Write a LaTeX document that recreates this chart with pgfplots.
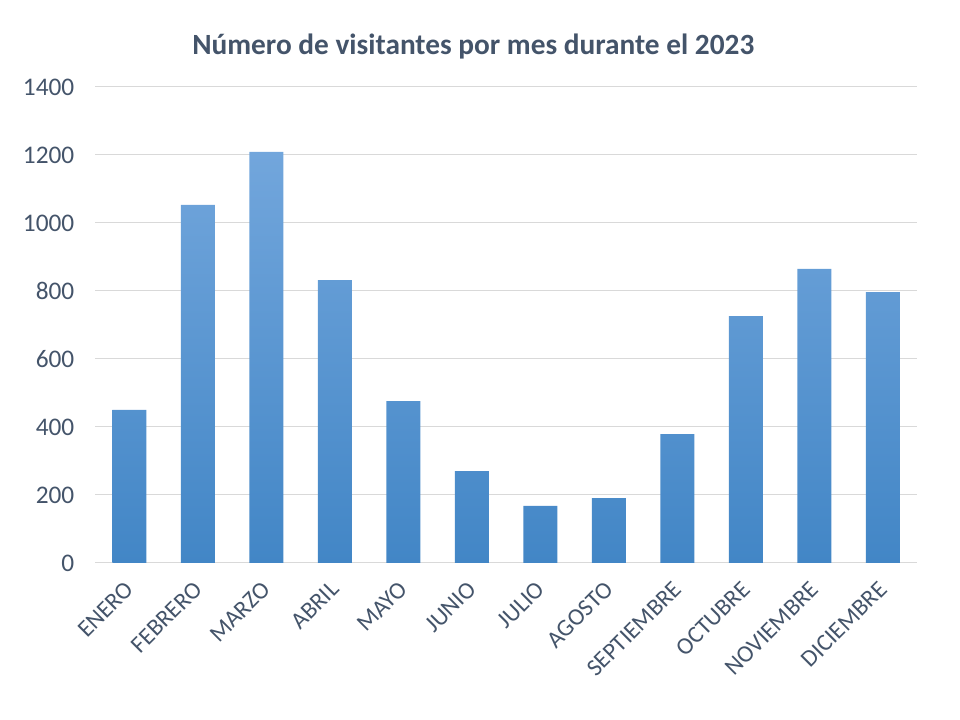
\documentclass[border=0pt]{standalone}
\usepackage{pgfplots}
\pgfplotsset{compat=1.18}
\usepackage{fontspec}
\setmainfont{Carlito}
\definecolor{txt}{RGB}{68,84,106}
\definecolor{gridc}{RGB}{217,217,217}
\definecolor{bartop}{RGB}{114,166,220}
\definecolor{barbot}{RGB}{66,134,198}
\begin{document}
\begin{tikzpicture}
\path (0,0) rectangle (720pt,540pt);
\node[font=\fontsize{22}{26}\selectfont\bfseries, text=txt] at (355pt,505pt) {Número de visitantes por mes durante el 2023};
\begin{axis}[
    at={(71.25pt,117.75pt)}, anchor=south west,
    scale only axis, width=616.5pt, height=357pt,
    xmin=-0.5, xmax=11.5, ymin=0, ymax=1400,
    ytick={0,200,...,1400},
    xtick={0,...,11},
    xticklabels={ENERO,FEBRERO,MARZO,ABRIL,MAYO,JUNIO,JULIO,AGOSTO,SEPTIEMBRE,OCTUBRE,NOVIEMBRE,DICIEMBRE},
    ymajorgrids, grid style={gridc, line width=0.75pt},
    axis x line*=bottom, axis y line*=left,
    x axis line style={gridc, line width=0.75pt, -},
    y axis line style={draw=none},
    major tick length=0pt,
    tick label style={font=\fontsize{18}{21}\selectfont, text=txt},
    /pgf/number format/assume math mode=true,
    yticklabel style={/pgf/number format/1000 sep={}, xshift=-12pt, font=\fontsize{19}{22}\selectfont},
    xticklabel style={xshift=-4pt, yshift=-7.7pt, rotate=45, anchor=north east},
]
\addplot[ybar, bar width=25.5pt, draw=none, top color=bartop, bottom color=barbot]
coordinates {(0,450) (1,1053) (2,1209) (3,832) (4,476) (5,270) (6,168) (7,191) (8,379) (9,726) (10,865) (11,797)};
\end{axis}
\end{tikzpicture}
\end{document}
